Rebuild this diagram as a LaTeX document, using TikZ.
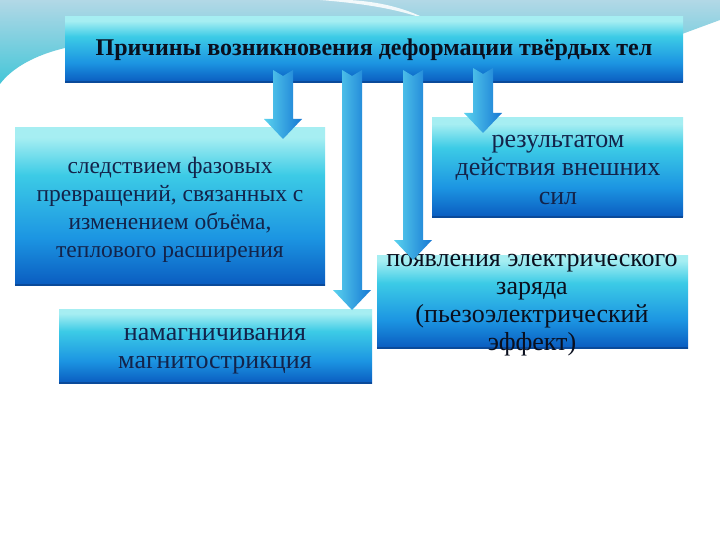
\documentclass[tikz,border=0pt]{standalone}
\usepackage{fontspec}
\setmainfont{Liberation Serif}
\usetikzlibrary{calc}
\definecolor{blight}{HTML}{A6EEF2}
\definecolor{bcyan}{HTML}{3CCBE6}
\definecolor{bmid}{HTML}{1C95E2}
\definecolor{bdark}{HTML}{0A5CC0}
\definecolor{bedge}{HTML}{0A4A9A}
\definecolor{txt}{HTML}{13234A}
\definecolor{txtb}{HTML}{0A0F1E}
\definecolor{bgtop}{HTML}{B2D8E6}
\definecolor{bgbot}{HTML}{44C6D8}
\definecolor{arl}{HTML}{5AD2EE}
\definecolor{arr}{HTML}{1678D4}
\pgfdeclareverticalshading{boxsh}{100bp}{color(0bp)=(bdark); color(25bp)=(bdark); color(40bp)=(bmid); color(60bp)=(bcyan); color(72bp)=(blight); color(75bp)=(blight); color(100bp)=(blight)}
\tikzset{
  box/.style={shade, shading=boxsh, inner sep=0pt},
  titlebox/.style={box, text=txtb, font=\fontsize{24}{28}\selectfont\bfseries},
  lbl/.style={text=txt, align=center, inner sep=0pt, anchor=base},
  arrowsh/.style={left color=arl, right color=arr},
  edge/.style={draw=bedge, line width=1.5pt}
}
\newcommand\barrow[2]{%
  \shade[arrowsh] ($(#1)+(-10,0)$) -- ($(#1)+(0,6)$) -- ($(#1)+(10,0)$)
    -- ($(#2)+(10,-20)$) -- ($(#2)+(19,-20)$) -- (#2) -- ($(#2)+(-19,-20)$)
    -- ($(#2)+(-10,-20)$) -- cycle;}
\begin{document}
\begin{tikzpicture}[x=1pt,y=-1pt]
\useasboundingbox (0,0) rectangle (720,540);
\fill[white] (0,0) rectangle (720,540);
% background decoration
\shade[top color=bgtop, bottom color=bgbot] (0,0) -- (720,0) -- (720,20) -- (682,34) -- (682,60) -- (65,60) -- (65,48) .. controls (35,55) and (12,68) .. (0,84) -- cycle;
\fill[white, opacity=.85] (320,0) .. controls (370,4) and (400,10) .. (428,20) .. controls (402,6) and (372,1) .. (348,0) -- cycle;
% title
\node[titlebox, minimum width=618pt, minimum height=65pt] (t) at (374,49.5) {Причины возникновения деформации твёрдых тел};
\draw[edge] (t.south west) -- (t.south east);
% boxes
\node[box, minimum width=310pt, minimum height=157pt] (a) at (170,206.5) {};
\draw[edge] (a.south west) -- (a.south east);
\node[lbl, font=\fontsize{23.5}{28.3}\selectfont] (at) at (170,258) {следствием фазовых\\превращений, связанных с\\изменением объёма,\\теплового расширения};
\node[box, minimum width=251pt, minimum height=99pt] (b) at (557.5,167.5) {};
\draw[edge] (b.south west) -- (b.south east);
\node[lbl, font=\fontsize{26}{29}\selectfont] (bt) at (558,205) {результатом\\действия внешних\\сил};
\node[box, minimum width=311pt, minimum height=93pt] (c) at (532.5,301.5) {};
\draw[edge] (c.south west) -- (c.south east);
\node[lbl, text=txtb, font=\fontsize{26}{27.7}\selectfont] (ct) at (532,350) {появления электрического\\заряда\\(пьезоэлектрический\\эффект)};
\node[box, minimum width=313pt, minimum height=74pt] (d) at (215.5,346) {};
\draw[edge] (d.south west) -- (d.south east);
\node[lbl, font=\fontsize{26}{28}\selectfont] (dt) at (215,368) {намагничивания\\магнитострикция};
% arrows
\coordinate (a1s) at (283,70);  \coordinate (a1e) at (283,139);
\coordinate (a2s) at (352,70);  \coordinate (a2e) at (352,310);
\coordinate (a3s) at (413,70);  \coordinate (a3e) at (413,260);
\coordinate (a4s) at (483,68);  \coordinate (a4e) at (483,133);
\barrow{a1s}{a1e}
\barrow{a2s}{a2e}
\barrow{a3s}{a3e}
\barrow{a4s}{a4e}
\end{tikzpicture}
\end{document}
